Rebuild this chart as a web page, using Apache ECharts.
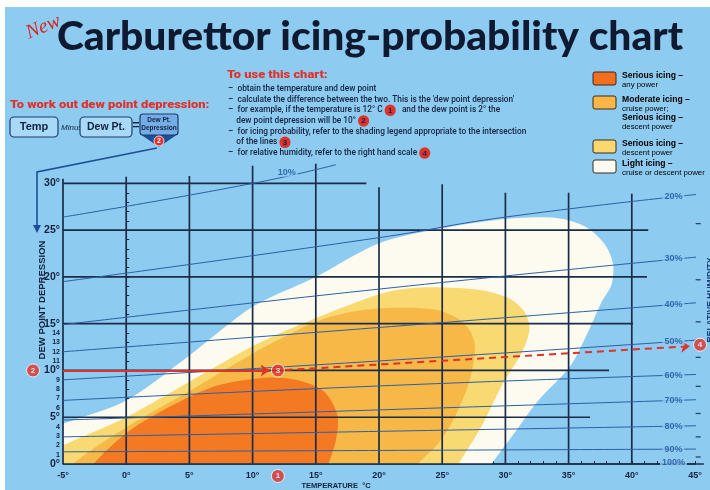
<!DOCTYPE html>
<html><head><meta charset="utf-8">
<script src="https://cdn.jsdelivr.net/npm/echarts@6/dist/echarts.min.js"></script>
<style>html,body{margin:0;padding:0;background:#fff}#c{width:710px;height:490px}</style>
</head><body><div id="c"></div>
<script>
// ---------- data (temperature °C, dew point depression °C) ----------
const tempLabels = [-5, 0, 5, 10, 15, 20, 25, 30, 35, 40, 45];
const depressionLabels = [0,1,2,3,4,5,6,7,8,9,10,11,12,13,14,15,20,25,30];

// icing-probability zones (outline points)
const lightIcing = [[-6,-2],[-6,3.6],[-5,4.3],[0,6.8],[5,11.6],[10,16.8],[15,20.0],[20,23.6],[25,25.2],[30,26.2],[34,26.3],[36.3,25.4],[37.8,23.6],[38.5,21.5],[38.4,19.2],[37.6,17.3],[36.5,14.0],[35.1,10.4],[32.6,6.8],[30.7,3.3],[28.9,0],[28,-2]];
const seriousDescent = [[-6,-2],[-6,1.3],[-5,2.0],[0,5.0],[5,8.8],[10,12.6],[15,15.6],[18,17.2],[21,18.5],[24,18.9],[28,18.6],[30.3,17.7],[31.5,16.3],[31.9,14.5],[31.4,12.2],[29.8,8.6],[28.1,4.0],[26.3,0],[25.5,-2]];
const moderateIcing = [[-5,-2],[-4.2,0],[0,3.9],[5,7.8],[10,11.8],[15,15.2],[18,16.3],[21,16.7],[24.5,16.5],[26.3,15.5],[27.3,14.0],[27.6,12.2],[27.1,8.6],[26,5.05],[24.7,2.2],[23.1,0],[22.5,-2]];
const seriousAny = [[-3.5,-2],[-2.6,0],[0,3.3],[3,5.8],[7,8.3],[10.8,9.2],[13.4,9.0],[15.6,7.8],[16.7,5.3],[16.6,2.6],[16,0],[15.5,-2]];

// grid segments: [temperature, top depression] and [depression, right temperature]
const verticalLines = [[-5,30.5],[0,30.7],[5,30.8],[10,31.9],[15,32.1],[20,29.6],[25,29.9],[30,29.0],[35,29.0],[40,28.9]];
const horizontalLines = [[0,45.7],[5,36.7],[10,38.2],[15,40.1],[20,41.2],[25,41.3],[30,19.0]];

// relative humidity lines
const rh10 = [[-5,26.4],[10,30.0],[16.6,32.0]];
const rh20 = [[-5,19.5],[20,24.2],[30,26.4],[45.7,28.9]];
const rh30 = [[-5,14.9],[20,18.7],[45.7,22.2]];
const rh40 = [[-5,12.0],[21,14.7],[45.7,17.3]];
const rh50 = [[-5,9.0],[21,11.1],[45.7,13.3]];
const rh60 = [[-5,6.8],[21,8.4],[45.7,9.6]];
const rh70 = [[-5,4.7],[45.7,6.9]];
const rh80 = [[-5,2.9],[45.7,4.1]];
const rh90 = [[-5,1.3],[45.7,1.6]];
const rhLabels = ['20%','30%','40%','50%','60%','70%','80%','90%','100%'];
const rhLabelDepression = [28.6,22.0,17.1,13.1,9.5,6.8,4.0,1.6,0.2];
const rhLabelTemp = 43.3;
const rh10Label = [12.7, 31.2, '10%'];
const rhMinorTicks = [25.7,19.7,15.2,11.4,8.3,5.4,2.9,0.75];

// worked example
const exampleTemp = 12, exampleDewPoint = 2, exampleDepression = 10;
const exampleRhEnd = [44.6, 12.6];
const markers = [[12,-1.28,'1'],[-7.37,10,'2'],[12,10,'3'],[45.4,12.75,'4']];

// ---------- styling ----------
const bg = '#8ecbf0';
const navy = '#13223e';
const gridCol = '#1b2c47';
const rhCol = '#2c5fa6';
const red = '#e0312a';
const F = "'Liberation Sans', Arial, sans-serif";

function zone(pts, color) {
  return {type:'custom', coordinateSystem:'cartesian2d', clip:true, silent:true, z:1,
    data:[[0,0]], encode:{x:0,y:1},
    renderItem:(params, api) => ({type:'polygon',
      shape:{points: pts.map(p => api.coord(p)), smooth:0.3},
      style:{fill:color}})};
}
function rhLine(d) {
  return {type:'line', data:d, symbol:'none', smooth:true, clip:false, silent:true, z:3,
    lineStyle:{color:rhCol, width:1}};
}
const legendRich = {b:{fontSize:8.6, fontWeight:'bold', color:navy, fontFamily:F, lineHeight:9.5},
                    r:{fontSize:7.8, color:navy, fontFamily:F, lineHeight:8.7}};

const chart = echarts.init(document.getElementById('c'));
const option = {
  backgroundColor: bg,
  animation: false,
  grid: {left:63, right:15, top:146, bottom:26},
  xAxis: {type:'value', min:-5, max:45, interval:1,
    axisLine:{show:true, lineStyle:{color:gridCol, width:1.6}},
    axisTick:{show:true, inside:true, length:3, lineStyle:{color:gridCol, width:1}},
    axisLabel:{interval:0, formatter:v => tempLabels.includes(v) ? v + '°' : '',
      color:navy, fontSize:9, fontWeight:'bold', fontFamily:F, margin:7},
    splitLine:{show:false}},
  yAxis: {type:'value', min:0, max:34, interval:1,
    axisLine:{show:false},
    axisTick:{show:true, inside:true, length:3, customValues:Array.from({length:31},(_, i)=>i),
      lineStyle:{color:gridCol, width:1}},
    axisLabel:{interval:0, margin:3,
      formatter:v => !depressionLabels.includes(v) ? '' : (v % 5 === 0 ? '{a|' + v + '°}' : '{b|' + v + '}'),
      rich:{a:{fontSize:10.5, fontWeight:'bold', color:navy, fontFamily:F},
            b:{fontSize:7, fontWeight:'bold', color:navy, fontFamily:F}}},
    splitLine:{show:false}},
  series: [
    zone(lightIcing, '#fdfbf0'),
    zone(seriousDescent, '#f9d972'),
    zone(moderateIcing, '#f6b847'),
    zone(seriousAny, '#f37a22'),
    {type:'custom', coordinateSystem:'cartesian2d', clip:false, silent:true, z:2,
      data: verticalLines, encode:{x:0, y:1},
      renderItem:(params, api) => {
        const a = api.coord([api.value(0), 0]), b = api.coord([api.value(0), api.value(1)]);
        return {type:'line', shape:{x1:a[0], y1:a[1], x2:b[0], y2:b[1]}, style:{stroke:gridCol, lineWidth:1.7}};
      }},
    {type:'custom', coordinateSystem:'cartesian2d', clip:false, silent:true, z:2,
      data: horizontalLines, encode:{x:1, y:0},
      renderItem:(params, api) => {
        const a = api.coord([-5, api.value(0)]), b = api.coord([api.value(1), api.value(0)]);
        return {type:'line', shape:{x1:a[0], y1:a[1], x2:b[0], y2:b[1]}, style:{stroke:gridCol, lineWidth:1.7}};
      }},
    rhLine(rh10), rhLine(rh20), rhLine(rh30), rhLine(rh40), rhLine(rh50),
    rhLine(rh60), rhLine(rh70), rhLine(rh80), rhLine(rh90),
    {type:'scatter', clip:false, silent:true, z:4, symbol:'rect', symbolSize:[5,1.3],
      itemStyle:{color:navy},
      data: rhMinorTicks.map(d => [45.25, d])},
    {type:'scatter', clip:false, silent:true, z:5, symbolSize:1,
      itemStyle:{color:'rgba(0,0,0,0)'},
      data: rhLabels.map((t, i) => [rhLabelTemp, rhLabelDepression[i], t]).concat([rh10Label]),
      label:{show:true, position:'inside', formatter:p => p.value[2],
        color:'#1e4f9e', fontSize:9, fontWeight:'bold', fontFamily:F,
        backgroundColor:bg, padding:[0,2]}},
    {type:'scatter', clip:false, silent:true, z:8, symbolSize:13,
      itemStyle:{color:red, borderColor:'#fff', borderWidth:1},
      data: markers,
      label:{show:true, position:'inside', formatter:p => p.value[2],
        color:'#fff', fontSize:8, fontWeight:'bold', fontFamily:F},
      markLine:{silent:true, symbol:['none','arrow'], symbolSize:9, precision:3,
        label:{show:false}, lineStyle:{color:red, width:2, type:'solid'},
        data:[
          [{coord:[-5, exampleDepression]}, {coord:[exampleTemp - 0.65, exampleDepression]}],
          [{coord:[exampleTemp, -0.55]}, {coord:[exampleTemp, exampleDepression - 0.75]}],
          [{coord:[exampleTemp + 0.6, exampleDepression + 0.05], lineStyle:{type:[7,5], width:2}}, {coord:exampleRhEnd}]
        ]}}
  ],
  graphic: [
    {type:'rect', shape:{x:0,y:0,width:710,height:7}, style:{fill:'#fff'}},
    {type:'rect', shape:{x:0,y:0,width:5,height:490}, style:{fill:'#fff'}},
    // title
    {type:'text', x:27, y:34, rotation:0.4, style:{text:'New', fill:'#d3261f',
      font:"italic 20px 'Liberation Serif', serif", textAlign:'left', textVerticalAlign:'middle'}},
    {type:'text', x:57, y:37, scaleX:1.045, style:{text:'Carburettor icing-probability chart', fill:'#0f1a30',
      font:"900 39px Lato, 'DejaVu Sans', sans-serif", textAlign:'left', textVerticalAlign:'middle'}},
    // dew point depression helper
    {type:'text', x:10, y:105, scaleX:1.12, style:{text:'To work out dew point depression:', fill:red,
      font:"900 11.5px Roboto, Arial, sans-serif", textAlign:'left', textVerticalAlign:'middle'}},
    {type:'rect', shape:{x:10,y:117,width:48,height:20,r:4}, style:{fill:'#a8d9f6', stroke:'#1d3c6e', lineWidth:1.2}},
    {type:'text', x:34, y:127, style:{text:'Temp', fill:navy, font:"bold 11px " + F, textAlign:'center', textVerticalAlign:'middle'}},
    {type:'text', x:61, y:128, style:{text:'Minus', fill:navy, font:"italic 8px 'Liberation Sans Narrow', Arial, sans-serif", textAlign:'left', textVerticalAlign:'middle'}},
    {type:'rect', shape:{x:80,y:117,width:52,height:20,r:4}, style:{fill:'#a8d9f6', stroke:'#1d3c6e', lineWidth:1.2}},
    {type:'text', x:106, y:127, style:{text:'Dew Pt.', fill:navy, font:"bold 10.5px " + F, textAlign:'center', textVerticalAlign:'middle'}},
    {type:'text', x:136, y:126, style:{text:'=', fill:navy, font:"bold 12px " + F, textAlign:'center', textVerticalAlign:'middle'}},
    {type:'polygon', shape:{points:[[140,134],[178,134],[159,147]]}, style:{fill:'#1d4f96'}},
    {type:'rect', shape:{x:140,y:114,width:38,height:21,r:3}, style:{fill:'#74ade6', stroke:'#1d3c6e', lineWidth:1.2}},
    {type:'text', x:159, y:120, style:{text:'Dew Pt.', fill:navy, font:"bold 6.5px " + F, textAlign:'center', textVerticalAlign:'middle'}},
    {type:'text', x:159, y:128, style:{text:'Depression', fill:navy, font:"bold 6.5px " + F, textAlign:'center', textVerticalAlign:'middle'}},
    {type:'circle', shape:{cx:159, cy:141, r:5}, style:{fill:red, stroke:'#fff', lineWidth:0.8}},
    {type:'text', x:159, y:141, style:{text:'2', fill:'#fff', font:"bold 7px " + F, textAlign:'center', textVerticalAlign:'middle'}},
    {type:'polyline', shape:{points:[[157,148],[37,172],[37,226]]}, style:{stroke:'#1d4f96', lineWidth:1.6, fill:null}},
    {type:'polygon', shape:{points:[[33,225],[41,225],[37,233]]}, style:{fill:'#1d4f96'}},
    {type:'text', x:42, y:300, rotation:Math.PI/2, style:{text:'DEW POINT DEPRESSION', fill:navy,
      font:"bold 9.5px " + F, textAlign:'center', textVerticalAlign:'middle'}},
    {type:'text', x:711, y:300, rotation:Math.PI/2, style:{text:'RELATIVE HUMIDITY', fill:'#1d3c7e',
      font:"bold 8.5px " + F, textAlign:'center', textVerticalAlign:'middle'}},
    {type:'text', x:336, y:486, style:{text:'TEMPERATURE  °C', fill:navy, font:"bold 7.5px " + F, textAlign:'center', textVerticalAlign:'middle'}},
    // instructions
    {type:'text', x:227, y:75, scaleX:1.12, style:{text:'To use this chart:', fill:red,
      font:"900 11.5px Roboto, Arial, sans-serif", textAlign:'left', textVerticalAlign:'middle'}},
    {type:'text', x:228, y:83.5, style:{
      text:[
        '–  obtain the temperature and dew point',
        "–  calculate the difference between the two. This is the 'dew point depression'",
        '–  for example, if the temperature is 12° C {n|1}   and the dew point is 2° the',
        '    dew point depression will be 10° {n|2}',
        '–  for icing probability, refer to the shading legend appropriate to the intersection',
        '    of the lines {n|3}',
        '–  for relative humidity, refer to the right hand scale {n|4}'
      ].join('\n'),
      fill:navy, font:"500 8.3px Roboto, Arial, sans-serif", lineHeight:10.7, textAlign:'left', textVerticalAlign:'top',
      rich:{n:{backgroundColor:red, color:'#fff', borderRadius:6, padding:[2,3.3,1.5,3.3],
        fontSize:8, fontWeight:'bold', fontFamily:F}}}},
    // legend
    {type:'rect', shape:{x:593,y:72,width:23,height:13,r:2}, style:{fill:'#f26f21', stroke:'#3a2a20', lineWidth:1}},
    {type:'rect', shape:{x:593,y:96,width:23,height:13,r:2}, style:{fill:'#f7b646', stroke:'#3a2a20', lineWidth:1}},
    {type:'rect', shape:{x:593,y:140,width:23,height:13,r:2}, style:{fill:'#fad86e', stroke:'#3a2a20', lineWidth:1}},
    {type:'rect', shape:{x:593,y:160,width:23,height:13,r:2}, style:{fill:'#fdfbf0', stroke:'#3a2a20', lineWidth:1}},
    {type:'text', x:622, y:71, style:{text:'{b|Serious icing –}\n{r|any power}', textAlign:'left', textVerticalAlign:'top', rich:legendRich}},
    {type:'text', x:622, y:95, style:{text:'{b|Moderate icing –}\n{r|cruise power;}\n{b|Serious icing –}\n{r|descent power}', textAlign:'left', textVerticalAlign:'top', rich:legendRich}},
    {type:'text', x:622, y:139, style:{text:'{b|Serious icing –}\n{r|descent power}', textAlign:'left', textVerticalAlign:'top', rich:legendRich}},
    {type:'text', x:622, y:159, style:{text:'{b|Light icing –}\n{r|cruise or descent power}', textAlign:'left', textVerticalAlign:'top', rich:legendRich}}
  ]
};
chart.setOption(option);
</script>
</body></html>
